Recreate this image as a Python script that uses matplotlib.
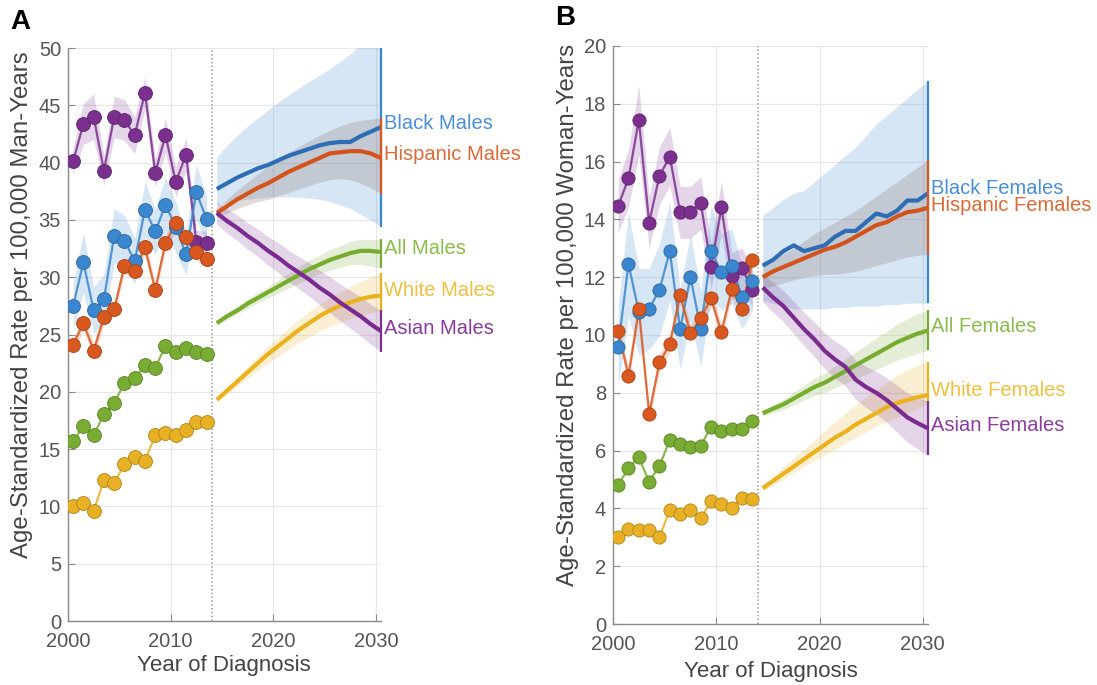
import matplotlib
matplotlib.use('Agg')
import matplotlib.pyplot as plt
from matplotlib.colors import to_rgb
import numpy as np

plt.rcParams['font.family'] = ['Liberation Sans', 'DejaVu Sans']

# ---------------- data ----------------
obs_years = [2000, 2001, 2002, 2003, 2004, 2005, 2006, 2007, 2008, 2009, 2010, 2011, 2012, 2013]
proj_years = [2014, 2015, 2016, 2017, 2018, 2019, 2020, 2021, 2022, 2023, 2024, 2025, 2026,
              2027, 2028, 2029, 2030]

# Panel A: males, observed
asian_m_obs = [40.1, 43.4, 44.0, 39.3, 44.0, 43.7, 42.4, 46.1, 39.1, 42.4, 38.3, 40.7, 33.1, 33.0]
asian_m_hw = [1.2, 1.8, 2.0, 1.3, 1.8, 1.8, 1.6, 1.4, 1.2, 1.5, 1.3, 1.5, 1.0, 1.0]
black_m_obs = [27.5, 31.3, 27.1, 28.1, 33.6, 33.2, 31.4, 35.9, 34.0, 36.3, 34.4, 32.0, 37.4, 35.1]
black_m_hw = [2.0, 2.6, 2.0, 2.2, 2.4, 2.2, 2.0, 2.4, 2.0, 2.4, 2.2, 1.8, 2.4, 2.0]
hisp_m_obs = [24.1, 26.0, 23.6, 26.5, 27.2, 31.0, 30.5, 32.6, 28.9, 33.0, 34.7, 33.5, 32.2, 31.6]
hisp_m_hw = [0.6, 0.6, 0.6, 0.6, 0.6, 0.7, 0.6, 0.7, 0.6, 0.7, 0.7, 0.7, 0.7, 0.7]
all_m_obs = [15.7, 17.0, 16.2, 18.05, 19.0, 20.8, 21.2, 22.3, 22.1, 24.0, 23.5, 23.8, 23.5, 23.3]
white_m_obs = [10.0, 10.3, 9.6, 12.3, 12.05, 13.7, 14.3, 14.0, 16.2, 16.4, 16.2, 16.7, 17.4, 17.4]

# Panel A: males, projected (with confidence limits)
black_m = [37.7, 38.2, 38.7, 39.1, 39.5, 39.8, 40.2, 40.6, 40.9, 41.2, 41.5, 41.7, 41.8, 41.8, 42.3, 42.7, 43.1]
black_m_lo = [36.3, 36.5, 36.7, 36.8, 36.9, 37.0, 37.0, 37.0, 37.0, 36.9, 36.8, 36.6, 36.3, 36.0, 35.5, 35.0, 34.4]
black_m_hi = [40.5, 41.5, 42.4, 43.2, 43.9, 44.6, 45.3, 45.9, 46.5, 47.1, 47.6, 48.2, 48.8, 49.5, 50.3, 51.2, 52.0]
hisp_m = [35.6, 36.2, 36.8, 37.3, 37.8, 38.2, 38.7, 39.2, 39.6, 40.0, 40.4, 40.8, 40.9, 41.0, 41.0, 40.8, 40.4]
hisp_m_lo = [35.2, 35.6, 36.0, 36.3, 36.6, 36.8, 37.1, 37.4, 37.7, 38.0, 38.3, 38.5, 38.6, 38.5, 38.2, 37.8, 37.3]
hisp_m_hi = [36.0, 36.8, 37.6, 38.3, 39.0, 39.7, 40.3, 40.9, 41.4, 41.9, 42.4, 42.8, 43.2, 43.5, 43.7, 43.8, 43.9]
all_m = [26.0, 26.6, 27.1, 27.7, 28.2, 28.7, 29.2, 29.7, 30.2, 30.7, 31.1, 31.5, 31.8, 32.1, 32.3, 32.3, 32.2]
all_m_lo = [25.8, 26.3, 26.8, 27.3, 27.75, 28.2, 28.6, 29.05, 29.5, 29.9, 30.3, 30.6, 30.85, 31.1, 31.1, 31.0, 30.8]
all_m_hi = [26.2, 26.9, 27.4, 28.1, 28.65, 29.2, 29.8, 30.35, 30.9, 31.5, 31.9, 32.4, 32.75, 33.1, 33.3, 33.3, 33.3]
white_m = [19.3, 20.1, 20.9, 21.7, 22.5, 23.3, 24.0, 24.7, 25.4, 26.0, 26.6, 27.1, 27.5, 27.8, 28.1, 28.3, 28.4]
white_m_lo = [19.1, 19.8, 20.5, 21.2, 21.9, 22.5, 23.1, 23.7, 24.3, 24.8, 25.3, 25.7, 26.1, 26.4, 26.7, 26.9, 27.0]
white_m_hi = [19.5, 20.4, 21.3, 22.2, 23.1, 24.0, 24.8, 25.6, 26.3, 27.0, 27.6, 28.2, 28.7, 29.2, 29.6, 30.0, 30.4]
asian_m = [35.6, 34.9, 34.3, 33.6, 33.0, 32.3, 31.7, 31.0, 30.4, 29.8, 29.1, 28.5, 27.8, 27.2, 26.6, 25.9, 25.3]
asian_m_lo = [34.6, 33.85, 33.2, 32.45, 31.8, 31.05, 30.4, 29.65, 29.0, 28.35, 27.6, 26.95, 26.2, 25.55, 24.9, 24.15, 23.5]
asian_m_hi = [36.6, 35.95, 35.4, 34.75, 34.2, 33.55, 33.0, 32.35, 31.8, 31.25, 30.6, 30.05, 29.4, 28.85, 28.3, 27.65, 27.1]

# Panel B: females, observed
asian_f_obs = [14.46, 15.42, 17.44, 13.89, 15.51, 16.17, 14.24, 14.24, 14.56, 12.36, 14.41, 12.04, 12.31, 11.56]
asian_f_hw = [0.9, 1.0, 1.2, 0.9, 1.0, 1.0, 0.9, 0.9, 0.9, 0.8, 0.9, 0.8, 0.7, 0.6]
black_f_obs = [9.6, 12.45, 10.8, 10.9, 11.56, 12.9, 10.2, 12.0, 10.2, 12.9, 12.17, 12.39, 11.3, 11.85]
black_f_hw = [1.4, 1.8, 1.5, 1.4, 1.6, 1.7, 1.4, 1.5, 1.3, 1.6, 1.3, 1.3, 1.1, 1.0]
hisp_f_obs = [10.15, 8.59, 10.89, 7.27, 9.05, 9.68, 11.38, 10.06, 10.58, 11.27, 10.09, 11.58, 10.89, 12.6]
hisp_f_hw = [0.3, 0.3, 0.3, 0.3, 0.3, 0.3, 0.3, 0.3, 0.3, 0.3, 0.3, 0.3, 0.3, 0.3]
all_f_obs = [4.81, 5.39, 5.77, 4.92, 5.47, 6.37, 6.23, 6.14, 6.17, 6.83, 6.68, 6.74, 6.74, 7.02]
white_f_obs = [3.0, 3.28, 3.25, 3.25, 3.02, 3.94, 3.80, 3.94, 3.66, 4.26, 4.15, 4.0, 4.35, 4.31]

# Panel B: females, projected
black_f = [12.4, 12.6, 12.9, 13.1, 12.9, 13.0, 13.1, 13.4, 13.6, 13.6, 13.9, 14.2, 14.1, 14.3, 14.65, 14.65, 14.9]
black_f_lo = [11.2, 11.1, 11.0, 10.9, 10.9, 10.9, 10.9, 10.95, 10.95, 11.0, 11.0, 11.0, 11.05, 11.05, 11.1, 11.1, 11.1]
black_f_hi = [14.15, 14.4, 14.7, 14.9, 15.0, 15.3, 15.6, 15.9, 16.2, 16.5, 16.9, 17.3, 17.6, 17.9, 18.2, 18.5, 18.8]
hisp_f = [12.0, 12.2, 12.35, 12.5, 12.65, 12.8, 12.95, 13.05, 13.2, 13.4, 13.6, 13.8, 13.9, 14.1, 14.25, 14.3, 14.4]
hisp_f_lo = [11.6, 11.7, 11.8, 11.9, 12.0, 12.05, 12.1, 12.1, 12.15, 12.2, 12.3, 12.4, 12.5, 12.6, 12.7, 12.75, 12.8]
hisp_f_hi = [12.4, 12.6, 12.8, 13.0, 13.25, 13.5, 13.7, 13.9, 14.1, 14.3, 14.55, 14.8, 15.05, 15.3, 15.55, 15.8, 16.05]
all_f = [7.29, 7.45, 7.6, 7.8, 8.0, 8.2, 8.35, 8.55, 8.75, 8.95, 9.15, 9.35, 9.55, 9.75, 9.9, 10.05, 10.15]
all_f_lo = [7.19, 7.31, 7.42, 7.58, 7.74, 7.9, 8.01, 8.17, 8.33, 8.49, 8.65, 8.81, 8.97, 9.13, 9.24, 9.36, 9.48]
all_f_hi = [7.39, 7.59, 7.78, 8.02, 8.26, 8.5, 8.69, 8.93, 9.17, 9.41, 9.65, 9.89, 10.13, 10.37, 10.56, 10.74, 10.86]
white_f = [4.7, 4.95, 5.2, 5.45, 5.7, 5.95, 6.2, 6.45, 6.65, 6.9, 7.1, 7.3, 7.5, 7.65, 7.75, 7.85, 7.92]
white_f_lo = [4.6, 4.8, 5.0, 5.25, 5.45, 5.65, 5.85, 6.05, 6.25, 6.45, 6.65, 6.85, 7.0, 7.15, 7.3, 7.45, 7.64]
white_f_hi = [4.8, 5.1, 5.45, 5.75, 6.05, 6.35, 6.7, 7.0, 7.3, 7.6, 7.85, 8.1, 8.35, 8.6, 8.8, 8.95, 9.08]
asian_f = [11.64, 11.3, 11.0, 10.6, 10.2, 9.85, 9.45, 9.15, 8.9, 8.45, 8.2, 8.0, 7.75, 7.45, 7.15, 6.95, 6.77]
asian_f_lo = [11.14, 10.78, 10.46, 10.04, 9.62, 9.25, 8.83, 8.51, 8.24, 7.77, 7.49, 7.26, 6.98, 6.64, 6.3, 6.06, 5.84]
asian_f_hi = [12.14, 11.82, 11.54, 11.16, 10.78, 10.45, 10.07, 9.79, 9.56, 9.13, 8.91, 8.74, 8.52, 8.26, 8.0, 7.84, 7.7]

labels_m = ['Black Males', 'Hispanic Males', 'All Males', 'White Males', 'Asian Males']
labels_f = ['Black Females', 'Hispanic Females', 'All Females', 'White Females', 'Asian Females']

# ---------------- style ----------------
C = {
    'blue': '#3a86cf', 'orange': '#d9581f', 'green': '#78ac33',
    'yellow': '#e8b024', 'purple': '#7b2f8f',
}
C_LINE = {
    'blue': '#2e6db4', 'orange': '#d4531b', 'green': '#77ad2f',
    'yellow': '#ebb21e', 'purple': '#7a2b90',
}
C_TEXT = {
    'blue': '#4a8fd6', 'orange': '#de6a38', 'green': '#8bbd4e',
    'yellow': '#efc040', 'purple': '#8a3c9e',
}
BAND_ALPHA = 0.2
MID = 0.5  # values are plotted at mid-year


def darker(c, f=0.75):
    r, g, b = to_rgb(c)
    return (r * f, g * f, b * f)


def style_axes(ax, ymax, ystep):
    ax.set_xlim(2000, 2030.5)
    ax.set_ylim(0, ymax)
    ax.set_xticks([2000, 2010, 2020, 2030])
    ax.set_yticks(np.arange(0, ymax + 0.01, ystep))
    ax.grid(True, color='#e8e8e8', lw=0.9)
    ax.set_axisbelow(True)
    for s in ['top', 'right']:
        ax.spines[s].set_visible(False)
    for s in ['left', 'bottom']:
        ax.spines[s].set_color('#8a8a8a')
        ax.spines[s].set_linewidth(1.0)
    ax.tick_params(direction='in', length=5, color='#8a8a8a', labelcolor='#555555',
                   labelsize=14.5, pad=5)
    ax.tick_params(axis='x', pad=8)
    ax.axvline(2014, color='#9a9a9a', lw=1.1, ls=(0, (1, 1.5)), zorder=1)


def draw_panel(ax, obs, proj, labels, ms, label_dy):
    ox = np.array(obs_years) + MID
    px = np.array(proj_years) + MID
    ytop = ax.get_ylim()[1]
    # observed
    for key, vals, hw in obs:
        v = np.array(vals)
        if hw is not None:
            h = np.array(hw)
            ax.fill_between(ox, v - h, v + h, color=C[key], alpha=BAND_ALPHA, lw=0, zorder=2)
    for key, vals, hw in obs:
        ax.plot(ox, vals, '-', color=C[key], lw=1.6, alpha=0.85, zorder=3)
        ax.plot(ox, vals, 'o', ms=ms, mfc=C[key], mec=darker(C[key]), mew=0.6, zorder=4)
    # projected bands
    for key, vals, lo, hi in proj:
        if key == 'orange':
            ax.fill_between(px, lo, hi, color='#8f7f7a', alpha=0.28, lw=0, zorder=2)
        else:
            ax.fill_between(px, lo, hi, color=C[key], alpha=BAND_ALPHA, lw=0, zorder=2)
    for key, vals, lo, hi in proj:
        ax.plot(px, vals, '-', color=C_LINE[key], lw=3.0, zorder=5, solid_capstyle='butt')
        ax.vlines(px[-1], lo[-1], min(hi[-1], ytop), color=C[key], lw=1.6, zorder=5,
                  clip_on=False)
    for (key, vals, lo, hi), lab, dy in zip(proj, labels, label_dy):
        ax.text(px[-1] + 0.25, vals[-1] + dy, lab, color=C_TEXT[key], fontsize=14.5,
                va='center', ha='left', clip_on=False)


fig = plt.figure(figsize=(10.97, 6.85), dpi=100)
axA = fig.add_axes([0.062, 0.0934, 0.2853, 0.8365])
axB = fig.add_axes([0.5588, 0.0890, 0.2871, 0.8440])

style_axes(axA, 50, 5)
style_axes(axB, 20, 2)

draw_panel(
    axA,
    obs=[('purple', asian_m_obs, asian_m_hw), ('blue', black_m_obs, black_m_hw),
         ('orange', hisp_m_obs, hisp_m_hw), ('green', all_m_obs, None),
         ('yellow', white_m_obs, None)],
    proj=[('blue', black_m, black_m_lo, black_m_hi), ('orange', hisp_m, hisp_m_lo, hisp_m_hi),
          ('green', all_m, all_m_lo, all_m_hi), ('yellow', white_m, white_m_lo, white_m_hi),
          ('purple', asian_m, asian_m_lo, asian_m_hi)],
    labels=labels_m, ms=10.0, label_dy=[0.3, 0.3, 0.3, 0.4, 0.2])

draw_panel(
    axB,
    obs=[('purple', asian_f_obs, asian_f_hw), ('blue', black_f_obs, black_f_hw),
         ('orange', hisp_f_obs, hisp_f_hw), ('green', all_f_obs, None),
         ('yellow', white_f_obs, None)],
    proj=[('blue', black_f, black_f_lo, black_f_hi), ('orange', hisp_f, hisp_f_lo, hisp_f_hi),
          ('green', all_f, all_f_lo, all_f_hi), ('yellow', white_f, white_f_lo, white_f_hi),
          ('purple', asian_f, asian_f_lo, asian_f_hi)],
    labels=labels_f, ms=9.5, label_dy=[0.18, 0.08, 0.13, 0.15, 0.1])

# axis labels
W, H = 1097, 685
fig.text(22 / W, 1 - 305 / H, 'Age-Standardized Rate per 100,000 Man-Years', rotation=90,
         ha='center', va='center', fontsize=17.3, color='#444444')
fig.text(568 / W, 1 - 315 / H, 'Age-Standardized Rate per 100,000 Woman-Years', rotation=90,
         ha='center', va='center', fontsize=17.3, color='#444444')
fig.text(224 / W, 1 - 665 / H, 'Year of Diagnosis', ha='center', va='center',
         fontsize=16, color='#444444')
fig.text(771 / W, 1 - 672 / H, 'Year of Diagnosis', ha='center', va='center',
         fontsize=16, color='#444444')
fig.text(20 / W, 1 - 22 / H, 'A', ha='center', va='center', fontsize=20, fontweight='bold')
fig.text(565 / W, 1 - 18 / H, 'B', ha='center', va='center', fontsize=20, fontweight='bold')

fig.savefig('out.png', dpi=100)
